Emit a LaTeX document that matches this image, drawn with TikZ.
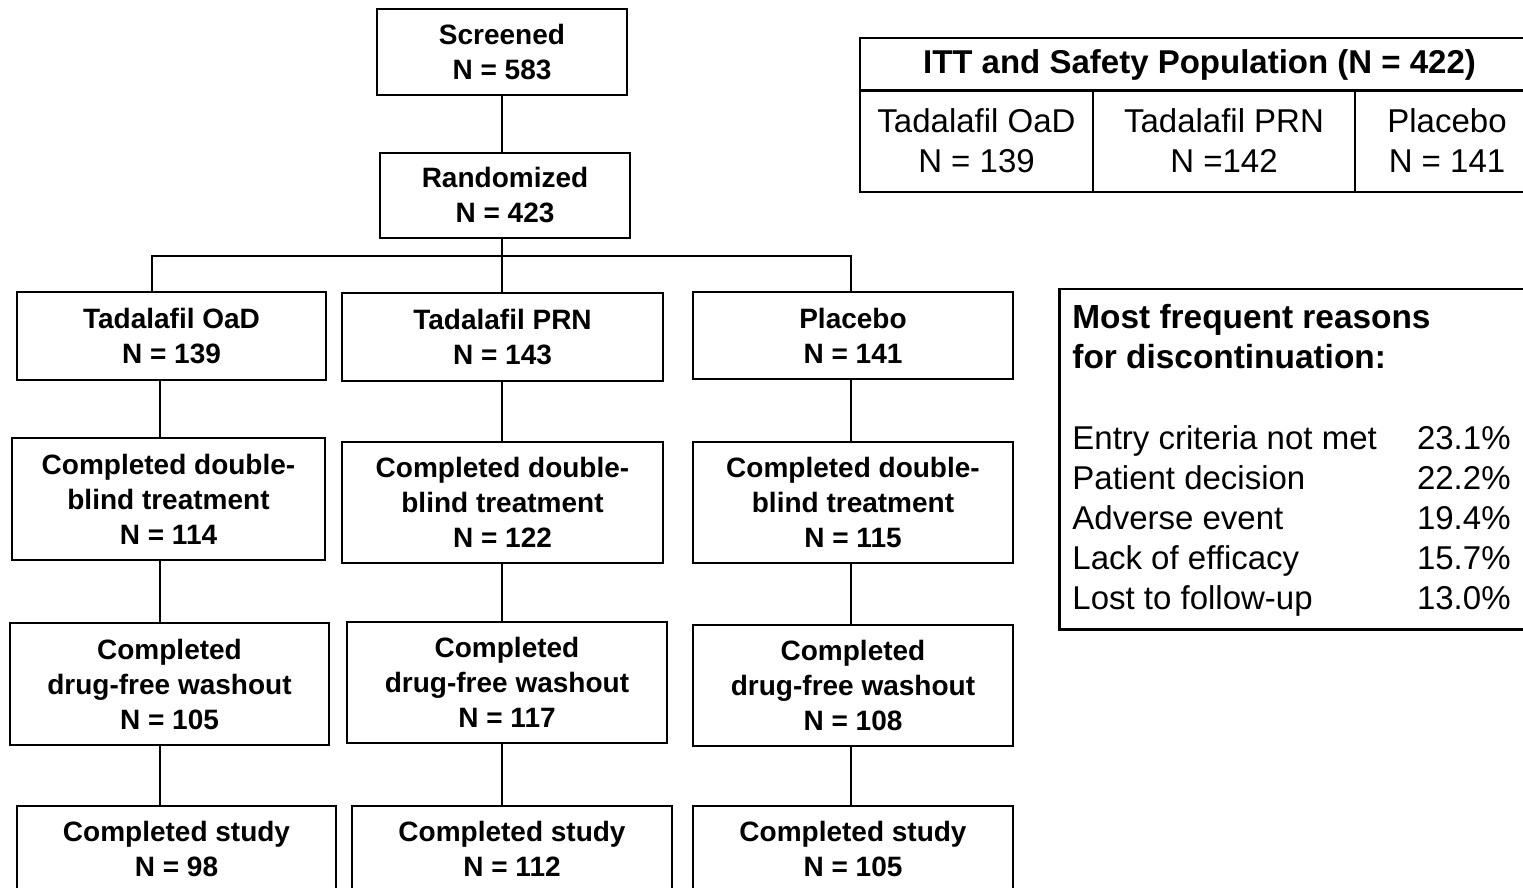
\documentclass[tikz,border=0pt]{standalone}
\usepackage{fontspec}
\setmainfont{Liberation Sans}

\begin{document}
\begin{tikzpicture}[x=0.5pt,y=-0.5pt]
	\tikzstyle{every node}=[inner sep=0pt]
	\tikzstyle{flowbox}=[draw,line width=1.25pt,align=center,
		font=\fontsize{14}{17.5}\selectfont\bfseries]
	\tikzstyle{cell}=[draw,line width=1.1pt,align=center,
		font=\fontsize{16.5}{20}\selectfont]
	\tikzstyle{link}=[line width=1pt]
	\useasboundingbox (0,0) rectangle (1523,888);
	\clip (0,0) rectangle (1523,888);

	\node[flowbox,minimum width=125pt,minimum height=43pt] (scr) at (502,52) {Screened\\N = 583};
	\node[flowbox,minimum width=125pt,minimum height=42.5pt] (rnd) at (505,195.5) {Randomized\\N = 423};

	\node[flowbox,minimum width=154.5pt,minimum height=44pt] (oad) at (171.5,336) {Tadalafil OaD\\N = 139};
	\node[flowbox,minimum width=160.5pt,minimum height=44pt] (prn) at (502.5,337) {Tadalafil PRN\\N = 143};
	\node[flowbox,minimum width=160pt,minimum height=43.5pt] (plc) at (853,335.5) {Placebo\\N = 141};

	\node[flowbox,minimum width=156.5pt,minimum height=61pt] (dboad) at (168.5,499) {Completed double-\\blind treatment\\N = 114};
	\node[flowbox,minimum width=160.5pt,minimum height=60.5pt] (dbprn) at (502.5,502.5) {Completed double-\\blind treatment\\N = 122};
	\node[flowbox,minimum width=160pt,minimum height=60.5pt] (dbplc) at (853,502.5) {Completed double-\\blind treatment\\N = 115};

	\node[flowbox,minimum width=159.5pt,minimum height=61pt] (wooad) at (169.5,684) {Completed\\drug-free washout\\N = 105};
	\node[flowbox,minimum width=160pt,minimum height=60.5pt] (woprn) at (507,682.5) {Completed\\drug-free washout\\N = 117};
	\node[flowbox,minimum width=160pt,minimum height=60.5pt] (woplc) at (853,685.5) {Completed\\drug-free washout\\N = 108};

	\node[flowbox,minimum width=159.5pt,minimum height=43pt] (stoad) at (176.5,849) {Completed study\\N = 98};
	\node[flowbox,minimum width=160pt,minimum height=43pt] (stprn) at (512,849) {Completed study\\N = 112};
	\node[flowbox,minimum width=160pt,minimum height=43pt] (stplc) at (853,849) {Completed study\\N = 105};

	\coordinate (split) at (502,256);
	\coordinate (ta) at (152,256);
	\coordinate (tc) at (851,256);
	\coordinate (ca) at (160,0);
	\coordinate (cb) at (502,0);
	\coordinate (cc) at (851,0);

	\draw[link] (scr.south -| split) -- (rnd.north -| split);
	\draw[link] (rnd.south -| split) -- (prn.north -| split);
	\draw[link] (ta |- oad.north) -- (ta) -- (tc) -- (tc |- plc.north);
	\foreach \c/\col in {oad/ca,prn/cb,plc/cc}{
		\draw[link] (\col |- \c.south) -- (\col |- db\c.north);
		\draw[link] (\col |- db\c.south) -- (\col |- wo\c.north);
		\draw[link] (\col |- wo\c.south) -- (\col |- st\c.north);
	}

	\node[cell,minimum width=339.5pt,minimum height=26.5pt,font=\fontsize{16.5}{20}\selectfont\bfseries] (itt) at (1199.5,64.5) {ITT and Safety Population (N = 422)};
	\node[cell,minimum width=116.5pt,minimum height=51pt] (ittoad) at (976.5,141) {Tadalafil OaD\\N = 139};
	\node[cell,minimum width=131pt,minimum height=51pt] (ittprn) at (1224,141) {Tadalafil PRN\\N =142};
	\node[cell,minimum width=92pt,minimum height=51pt] (ittplc) at (1447,141) {Placebo\\N = 141};

	\node[draw,line width=1.25pt,minimum width=240pt,minimum height=170pt,anchor=north west] (why) at (1058,288) {};
	\node[anchor=north west,align=left,font=\fontsize{16.7}{20}\selectfont\bfseries] (whyhead) at (1072,304) {Most frequent reasons\\for discontinuation:};
	\foreach \txt/\pct [count=\i] in {Entry criteria not met/23.1\%,Patient decision/22.2\%,Adverse event/19.4\%,Lack of efficacy/15.7\%,Lost to follow-up/13.0\%}{
		\node[anchor=base west,font=\fontsize{16.5}{20}\selectfont] (whytxt\i) at (1072,409+40*\i) {\txt};
		\node[anchor=base east,font=\fontsize{16.5}{20}\selectfont] (whypct\i) at (1511,409+40*\i) {\pct};
	}
\end{tikzpicture}
\end{document}
